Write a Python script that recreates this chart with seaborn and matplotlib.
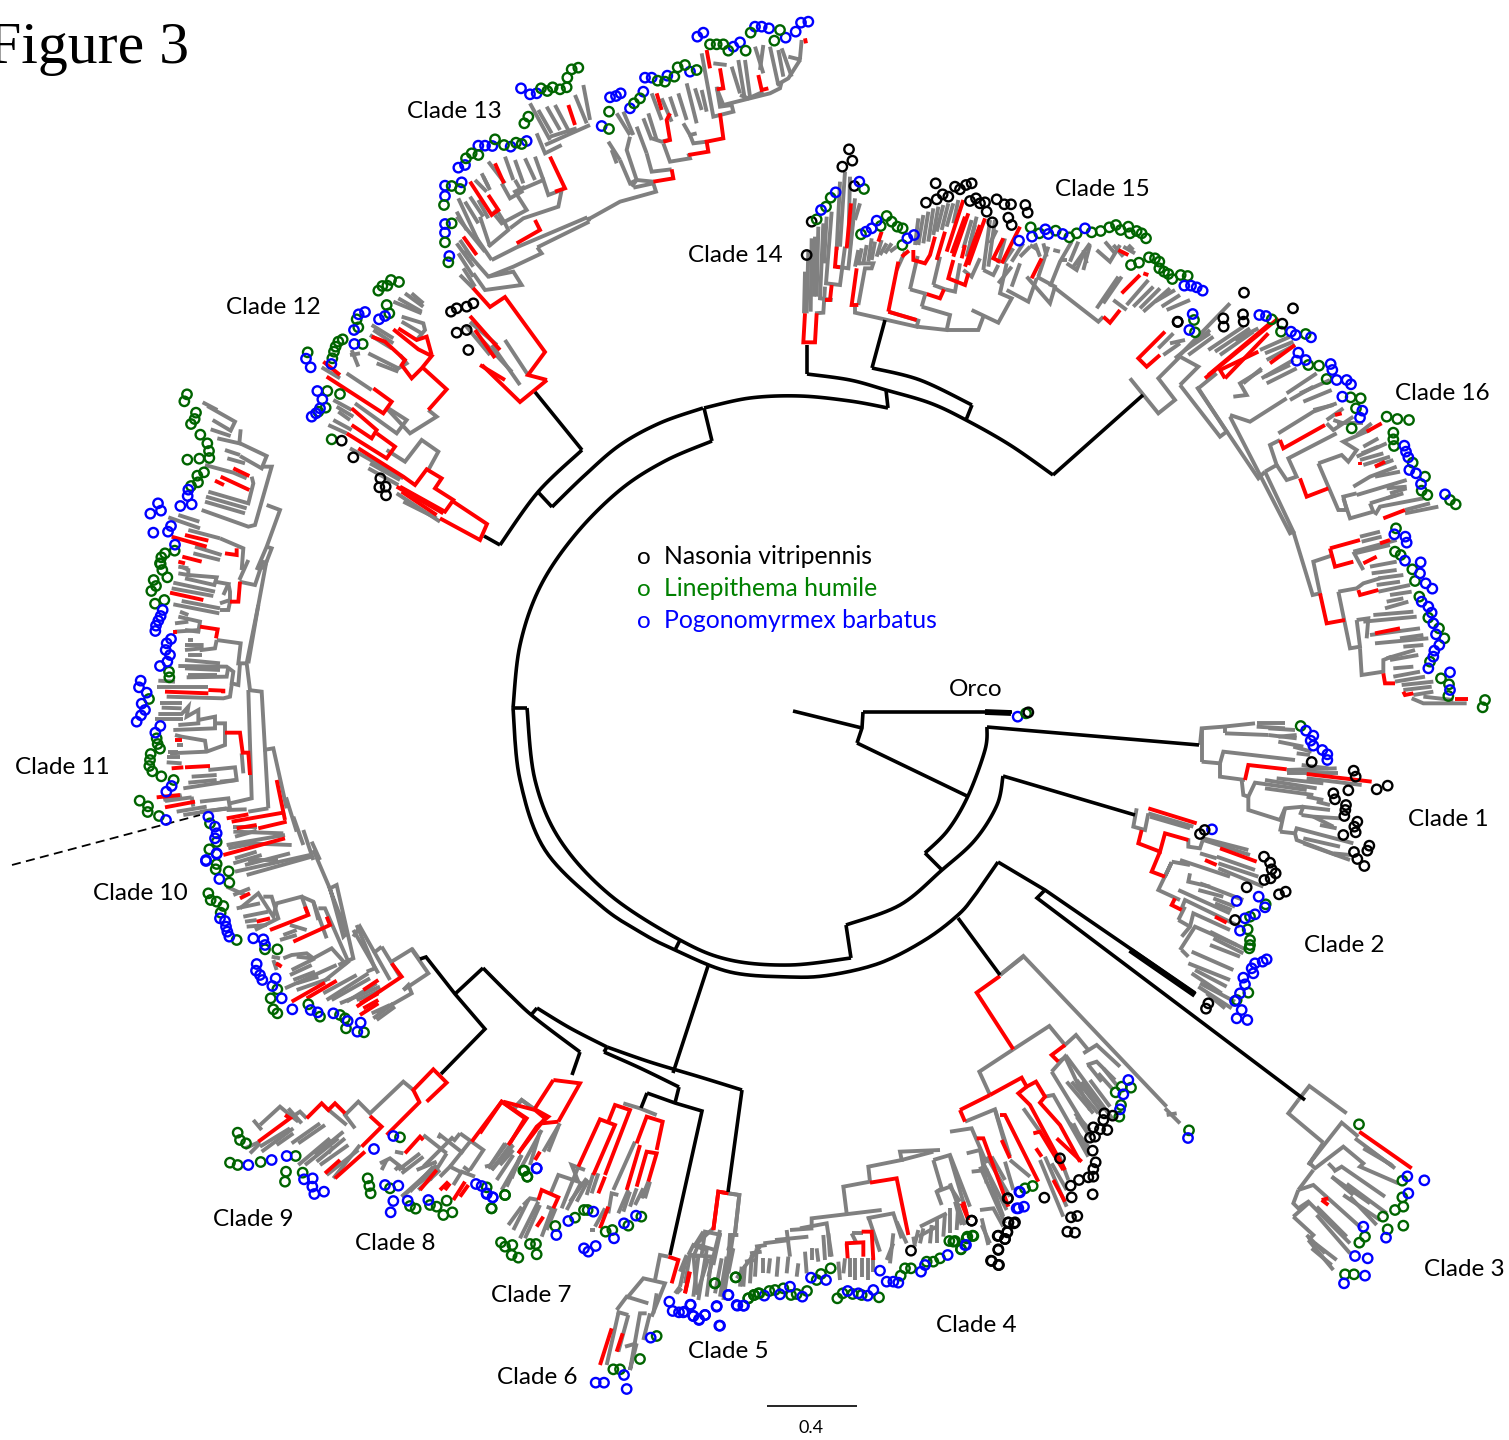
import pandas as pd
import seaborn as sns
import matplotlib
matplotlib.use("Agg")
import matplotlib.pyplot as plt

# ---- branches: flat x,y polylines, in 1/3 px inside a crop ----
c11a_grey = [[248,397,292,420],[262,408,345,455,332,482,278,450],[272,478,332,498],[292,505,358,520,362,478],[315,540,360,555],
 [360,520,440,558,425,595,360,558],[322,565,375,580],[255,585,340,608,380,625],[265,665,385,700,400,640,395,620],[258,680,380,715],
 [255,695,375,730],[245,720,385,770,405,765,455,590,425,590],[145,742,240,775],[175,735,238,755],[205,780,300,805],[225,830,305,855],
 [220,850,300,870],[300,805,370,835,365,900],[185,890,205,900],[440,705,480,720,440,830,410,900],[440,830,455,835,430,900]]
c11a_red = [[340,595,388,618],[302,620,388,660],[285,632,312,645],[195,795,265,812],[155,800,260,830],[315,850,350,855,350,835],[187,860,245,875],[175,875,195,880]]
c12_grey = [[820,95,905,130],[835,85,905,125],[855,70,910,110],[875,70,910,100],[845,140,910,160,915,180,890,210],[845,155,905,190],
 [755,165,820,205],[760,180,820,220],[750,195,815,235],[745,250,835,295,860,280,840,255],[770,280,835,305],[925,420,950,440,870,490,800,415],
 [605,292,660,325],[680,310,755,360],[690,255,720,250],[695,240,715,290],[705,400,830,490,860,450,805,415],[640,390,695,420],[650,410,700,440],
 [655,425,690,450],[640,450,695,480],[625,465,680,490],[690,535,850,625],[750,580,840,630],[745,595,835,645],[800,540,855,575,905,510,955,545,925,600],
 [830,670,960,755],[850,695,950,745]]
c12_red = [[820,178,895,238,935,258,905,295,875,325,845,285,855,270,795,215,755,200],[835,175,890,210,920,200,935,255],[905,290,980,358,925,420],
 [610,275,660,315],[620,320,790,430,815,395,760,355],[695,415,770,480,755,505,695,465],[680,490,800,565,825,530,770,490],
 [715,535,850,620,885,645,920,598,965,625,945,655,1000,690,975,725,840,650],[845,655,925,700],[845,665,950,735],[830,650,970,730],
 [1000,695,1101,762,1080,810,960,745]]
c13base_red = [[473,288,490,307,505,297,545,352,528,375,547,380],[547,380,520,402,482,365],[470,316,500,350],[475,330,495,358],[480,365,505,380]]
c13base_grey = [[505,340,528,375],[470,322,497,345],[482,340,512,372],[466,326,490,355],[492,345,520,385]]
c13_grey = [[90,795,130,835],[100,775,135,830],[85,730,130,800],[80,700,130,770],[90,690,130,750],[105,720,175,800,250,785,275,825,165,840,130,790],
 [175,800,250,770,335,730,322,712],[185,750,260,712,472,622],[322,712,478,635],[472,622,478,635],[475,628,570,575,678,545,670,520,610,533],[185,750,130,670],[165,725,80,620],
 [85,565,150,705],[105,575,145,640],[80,605,110,660],[120,560,160,620],[145,570,175,625],[150,620,180,710],[175,710,235,660,225,640,200,600,190,610],
 [195,615,215,640,290,600,255,545,285,530],[135,510,170,545],[155,490,180,540],[175,455,225,520],[225,440,250,510],[255,450,280,520],[285,445,315,510],
 [315,440,340,510],[160,500,175,530],[215,520,240,565,275,545,255,510],[270,540,340,510,355,555,395,540,385,590,280,625,240,655],
 [320,370,345,430,395,405],[300,280,360,390],[325,300,365,370],[350,290,390,360],[375,285,420,370],[435,255,470,340],[460,225,480,330],
 [345,405,480,345],[360,380,440,355],[535,395,570,450],[560,310,600,375],[580,305,610,375],[545,420,560,460],[570,450,600,520,620,510,590,420,600,380],
 [605,530,620,510,670,515],[620,350,650,430],[640,325,665,390],[655,310,680,390],[650,430,665,485,725,478],[665,250,695,330],[695,265,725,335],
 [720,260,740,320],[745,250,770,330],[770,220,800,340],[795,235,815,300],[815,240,830,305],[665,385,695,395,715,390],[700,400,720,455,780,445,775,430],
 [760,340,780,375,800,370],[780,375,790,400,830,395],[815,130,850,320,910,305,905,285,870,290,860,230],[850,160,890,165],
 [860,235,880,285,1020,250,1050,235,1055,215],[905,170,930,250],[925,150,945,270],[945,150,960,260],[975,110,1000,190],[1000,105,990,180],
 [1020,110,1045,225],[1045,120,1060,200],[1055,115,1085,200],[1075,140,1115,150],[1115,90,1110,145],[930,255,955,265,1000,245],[1040,225,1075,205,1110,150]]
c13_red = [[100,680,140,735],[120,515,185,615,205,600,175,555],[195,460,222,520],[360,440,405,535,375,545],[415,285,435,345],[260,700,330,660,315,630],
 [670,515,730,505,725,478],[680,250,695,300],[775,435,835,425,830,395,880,385,870,310],[720,310,710,330,720,390,700,395],[830,120,840,175],
 [870,175,880,235,860,238],[985,195,995,240,1015,235],[1125,85,1128,100]]
c15_grey = [[45,425,42,550],[55,360,50,550],[65,325,62,545],[75,320,72,500],[85,290,80,500],[100,280,90,505,128,510],[110,260,102,400],
 [125,245,108,460,150,465,165,350],[150,155,140,360],[165,125,150,350],[180,140,175,350],[195,205,180,350],[210,220,195,270],[140,410,175,415,190,270],
 [75,550,100,548,105,470],[205,360,195,410],[215,355,205,405],[230,345,220,400],[245,325,235,395],[255,335,245,390],[275,330,260,380],[290,340,270,375],
 [305,340,285,370],[320,350,300,365],[200,400,250,400,245,415,225,415,205,525],[195,530,195,548,380,590,385,572,295,545],[320,420,345,365],
 [360,478,410,492],[360,478,383,378],[395,530,405,495],[465,478,495,485,510,400],[430,465,450,380],[430,465,465,478],[380,590,470,600,480,555,395,530],
 [385,265,375,345],[400,255,385,345],[415,245,400,340],[430,235,415,335],[445,230,430,315],[460,225,440,305],[475,220,455,300],[490,220,470,290],
 [505,210,490,280],[545,270,520,355],[555,285,530,380],[560,260,540,340],[600,270,580,420],[615,270,595,410],[620,300,600,340],[645,325,625,400],
 [520,420,545,440,570,385],[580,420,610,435,625,405],[470,600,565,600,580,560],[545,540,625,578,665,505,630,490,650,400],[650,480,715,515,740,445],
 [625,460,665,410],[640,400,670,355],[665,395,700,340],[690,380,720,350],[665,470,690,400],[720,345,745,360],[710,440,780,520,795,470,740,440],
 [735,340,750,380],[760,340,770,380],[775,350,745,440],[790,360,810,365],[780,470,810,395,845,335],[810,390,830,390],[840,395,865,335],[850,410,900,340],
 [880,360,890,400],[900,345,880,420],[790,470,925,575,940,560],[830,400,860,420,880,370],[920,360,960,395,990,345],[945,335,975,370],[970,345,1000,380],
 [1000,350,1035,370],[1015,345,1030,360],[920,535,985,440],[940,520,995,440],[970,510,1010,540],[1010,525,1075,450],[1030,530,1090,470],[1050,535,1110,475],
 [1060,545,1140,475],[1095,515,1155,480],[1115,530,1170,495],[1130,540,1200,510]]
c15_red = [[45,550,40,637,75,637,80,550],[125,465,120,510,105,510],[140,350,135,410,150,412],[183,220,170,355],[200,415,185,525,205,525],[295,545,380,570],
 [295,545,325,395],[275,305,265,335],[335,380,357,362],[410,492,450,505,462,478],[520,210,470,365],[535,250,490,380],[525,260,485,370],[570,285,525,410],
 [585,265,535,405],[465,305,440,390],[435,320,420,375,405,400,370,390,370,360],[490,390,475,445,525,465,535,430],[525,345,515,385],[640,325,610,385,630,395],
 [690,290,635,400],[755,385,725,445],[985,360,1015,375],[940,560,960,578,990,540],[995,490,1050,435],[1060,430,1075,435]]
c16_grey = [[0,295,85,400,135,360,85,295,150,230],[85,205,130,160],[100,225,150,190],[120,190,165,180],[135,235,240,150],[165,210,240,160],[175,225,250,170],
 [150,225,300,70],[235,210,340,140],[255,215,360,145],[270,225,370,155],[315,180,385,145],[150,315,205,260,150,230],[150,315,270,470,290,455,205,325,260,280],
 [200,320,385,595,405,575],[300,410,480,760,490,755,405,575],[300,405,360,425,470,355],[310,350,350,345,330,310,395,270],[340,310,395,265],[395,295,490,240],
 [405,290,480,255],[410,310,500,265],[390,210,480,170],[405,220,490,185],[410,240,495,195],[470,340,560,280],[480,360,550,320],[510,340,600,300],[520,365,605,330],
 [445,460,550,395,620,370],[550,390,610,375],[590,420,640,385],[590,430,610,450,670,410],[610,420,640,430],[620,430,700,430],[680,465,725,430],
 [405,575,440,555,420,495,450,480],[440,555,470,600,500,590,475,535,620,460],[565,550,625,690,650,690,640,650,680,640],[565,550,635,525,655,545,680,510,640,485,720,450],
 [680,530,770,490],[700,500,745,475],[695,520,745,500],[690,540,760,520],[700,555,780,530],[735,560,790,540],[640,655,660,715,730,695,720,670],
 [670,620,720,590,800,560],[735,590,810,575],[680,645,830,600],[770,625,830,620],[780,640,830,625],[770,655,820,640],[720,670,800,645],[735,705,750,680,880,655],
 [825,700,925,680],[825,690,900,670],[490,755,548,945,570,940,550,845,610,825],[690,770,750,755],[695,785,755,770],[670,815,700,870],[670,815,800,780],[675,820,780,795],
 [625,935,660,1105,690,1100,680,1020],[625,935,680,925,700,910,750,895],[720,860,800,845],[725,880,800,870],[745,895,820,885],[740,915,810,905],[745,935,840,915],
 [780,945,845,935],[770,965,820,955],[765,985,835,965],[730,1005,850,995],[700,1025,860,1010],[720,1065,870,1045],[735,1090,895,1075],[810,1075,880,1065],
 [820,1100,880,1095],[770,1135,855,1110],[780,1140,865,1125],[790,1165,850,1160],[680,1020,715,1015,710,1075],[690,1105,695,1185,760,1175,760,1140,785,1130],
 [790,1190,870,1175],[795,1205,885,1190],[815,1215,910,1205],[820,1230,905,1220],[850,1245,910,1235],[845,1255,880,1270,1010,1270],[880,1250,970,1260]]
c16_red = [[105,155,25,235,50,260,90,225],[225,295,445,115],[235,285,420,130],[285,295,415,160],[285,295,270,270,385,215],[420,250,495,195],[450,480,460,505,585,435],
 [615,405,635,400],[710,455,755,430],[510,595,530,650,595,625],[690,545,690,555],[735,560,765,545],[760,715,825,690],[600,805,615,860,670,845],[600,805,690,780],
 [750,790,780,780],[700,850,740,830],[570,940,590,1030,645,1020],[685,930,690,945,745,930],[735,1060,810,1045],[760,1180,765,1210,795,1210],[820,1235,825,1245,850,1240],[975,1258,1015,1258]]
c12_grey_z7 = [[240,135,245,85,310,80,405,70],[245,185,245,85],[245,185,300,190,310,155,525,180],[300,190,300,230,375,240],[410,70,495,70],[410,80,495,85],
 [315,100,445,105],[315,75,315,100],[445,85,525,90],[445,105,530,115],[475,110,530,105],[475,125,550,140],[520,140,575,155],[530,160,570,165],[500,210,650,205],
 [500,220,655,220],[545,195,625,205],[365,240,370,285,385,290,405,248,560,270],[385,290,385,330,480,360,495,325,550,320],[435,240,590,265],[470,235,610,250],[435,265,580,285],
 [560,290,610,300],[590,305,630,315],[545,320,630,330],[545,345,580,350,660,355],[580,350,640,380],[600,375,650,385],[540,345,550,320],[480,395,525,400,530,385,700,430],
 [480,395,495,325],[525,400,530,420,650,465],[550,415,660,440],[550,430,690,480],[640,460,690,465],[560,235,725,255],
 [50,325,40,380,75,390,85,340],[85,340,220,380],[90,350,210,385],[135,530,155,487,115,570,180,600],[205,415,205,440,240,445,250,415,385,450],[250,420,390,465],[240,460,290,475],
 [290,470,405,510],[295,490,415,530],[295,505,430,560],[155,485,210,495],[180,480,330,530],[210,520,205,545,270,560],[240,550,370,600],[235,570,310,590],[280,595,345,620],
 [285,610,335,630],[175,570,330,640],[185,625,195,600,360,680],[175,660,195,620],[175,660,210,680],[185,710,210,680,220,640,330,690],[270,695,380,750],[280,715,370,760],
 [270,735,360,770],[180,750,225,680,350,735],[185,750,205,770],[215,755,340,810],[205,790,330,840],[225,810,320,860],[215,820,305,880],[240,850,345,905],[235,860,335,925],[260,880,315,925]]
c12_red_z7 = [[375,240,385,195,500,208],[560,222,755,245],[85,325,230,370],[65,390,55,430,120,455,135,400,205,420],[120,455,95,515,135,530],[300,445,410,485],[255,480,290,495],
 [165,595,155,615,185,630],[285,650,320,668]]
c4_grey_z8 = [[150,75,220,18,650,470],[645,475,690,520],[650,495,680,490],[190,298,88,365,120,435],[190,298,298,228,345,285,378,255,415,300],[325,335,350,320,490,510],
 [400,310,440,285,510,350],[410,345,440,335,495,390],[415,345,455,395],[305,365,345,320,420,480],[305,365,400,520],[350,395,430,490],[365,395,445,490],[380,390,455,485],
 [395,395,465,480],[420,390,480,470],[445,370,490,420],[460,355,500,405],[375,490,420,540],[360,520,415,590],[370,520,415,610],[380,500,420,560],
 [45,515,135,478,180,620],[0,545,65,535,110,640],[135,480,170,600],[285,440,310,435,415,620],[220,475,270,545],[180,630,240,680],[165,635,190,720],[270,630,340,800],
 [285,620,350,770],[305,640,350,720],[325,610,355,690],[50,610,90,600,110,700],[65,665,110,660,160,800],[90,650,165,820],[100,640,170,780],[110,620,180,740],[125,620,165,690],
 [90,780,130,775,160,830],[95,825,120,880],[95,805,115,885],[0,620,50,790],[0,700,45,825],[15,755,35,825],
 [1045,450,1078,408,1190,490],[1045,450,1015,490,1120,578],[1120,578,1075,645,1175,518,1225,560],[1090,660,1045,720],[1215,565,1335,655],[1240,595,1325,645],[1245,590,1330,650],
 [1080,640,1095,655,1180,590,1240,640,1230,650,1345,700],[1135,640,1155,660],[1150,665,1175,650,1305,740],[1145,680,1260,760],[1145,680,1210,735],[1185,720,1195,705,1310,790],
 [1180,735,1290,810],[1200,740,1280,825],[1045,720,1090,705,1235,835],[1045,720,1030,760,1045,775,1075,755,1200,880],[1100,795,1200,910],[1100,770,1190,860],[1030,800,1075,760],
 [1030,800,1090,855,1075,870],[1075,870,1150,960],[1070,855,1125,910],[1085,895,1145,945],[1095,880,1160,930]]
c4_red_z8 = [[150,78,80,128,190,298],[345,285,305,315,325,335],[120,435,215,383,230,410,258,395,285,440,270,458,330,525,390,635],[230,410,205,430,240,465,345,660],[30,480,120,435],
 [30,480,45,515],[150,495,165,495,265,695],[155,570,180,625],[80,565,100,565,175,770],[250,550,270,545,340,660],[258,595,275,620],[310,690,345,755],[320,565,395,635],[35,760,55,810],
 [1228,545,1385,655],[1115,750,1135,745],[1115,750,1135,765]]
c4_grey_z9 = [[500,250,490,170,570,155],[570,155,565,110,665,90,660,65,780,60],[665,90,760,65],[760,90,810,75,870,230],[760,90,785,175,770,185,785,225],[770,185,810,170,840,215],
 [395,290,395,265,605,240],[360,295,440,280,455,380],[330,300,400,295],[285,330,385,320],[225,350,260,345],[250,340,330,330],[210,370,245,365],[195,395,225,390],[185,410,180,470],
 [195,405,190,470],[215,375,210,460],[230,355,225,440],[250,385,250,430],[270,385,265,430],[295,380,290,440],[325,380,320,430],[355,400,350,440],[375,365,380,430],[395,355,395,390],
 [410,355,415,395],[430,315,435,390],[445,310,450,380],[320,300,330,380],[560,265,640,250,665,325],[565,260,600,365],[515,310,550,310],[475,395,480,450],[495,385,490,430],
 [510,385,510,440],[525,385,525,450],[545,385,545,440],[565,385,565,450],[580,385,580,425],[515,310,530,340],[640,310,630,400],[650,275,680,340],[620,390,640,340],[705,350,700,320],
 [720,290,800,250],[715,320,770,290],[705,340,715,300],[720,340,730,295],[750,340,755,285],[770,340,770,260],[790,320,795,250],[810,310,810,235],[830,300,835,220],
 [145,190,178,195,165,310],[40,350,100,295],[70,305,45,345,75,360],[25,375,40,345,80,360,55,510],[20,375,0,425],[25,375,55,380,40,500],[120,300,85,440],[125,385,105,490],
 [160,310,130,510],[150,355,125,490],[140,355,160,360]]
c4_red_z9 = [[570,158,650,145,685,315],[495,340,550,337,550,380],[500,340,503,385],[545,305,575,305,580,390],[850,215,865,270],[100,300,115,185,145,190],[30,425,15,490]]
c5_grey_z10 = [[430,70,480,85,530,105],[210,345,235,285,295,305,275,255,315,270],[245,385,295,260],[260,390,305,305],[270,365,320,295],[290,365,325,300],[320,345,340,280],[335,340,355,280],
 [175,360,150,355,130,375],[85,435,125,380],[100,450,145,360],[120,475,175,365],[135,475,180,375],[185,470,215,390],[200,380,225,390,200,450],[400,330,465,185],[330,450,345,450],
 [345,440,375,385],[385,400,395,340,415,345],[415,400,445,330],[430,395,450,335],[450,380,470,325],[465,375,490,325],[485,355,505,305],[495,355,510,305],[100,90,125,60,160,85],
 [125,260,185,150],[190,215,240,130],[205,215,235,140],[150,255,180,155],[25,265,75,190],[35,270,95,190],[50,300,100,225],[65,330,125,225],[15,260,35,255],
 [745,340,778,345,765,460],[665,525,675,455,725,465],[640,530,655,495,705,510],[745,540,750,465,775,465],[615,610,630,525,695,530,680,650],[600,620,620,530],[640,520,650,640],
 [650,645,685,535],[700,555,720,460],[720,650,740,530],[745,580,760,505],[585,640,600,620],[590,640,605,625],[770,595,790,565,840,500],[525,600,540,525,565,530],
 [440,655,490,595,555,610,515,710],[530,640,520,700],[410,690,440,650,505,670],[410,695,445,705],[380,855,415,700],[445,705,415,815],[500,700,480,700,450,870,470,790],[435,800,470,790],[490,780,510,700]]
c5_red_z10 = [[295,260,360,118,405,135,340,285],[385,125,405,75,450,90,375,285],[355,340,375,290],[175,360,185,330,235,352,220,385],[170,440,190,410],[360,445,385,380],[440,330,480,195],
 [470,320,500,215,530,220,505,305],[470,190,500,110,548,125,530,210],[0,160,65,65,140,115,85,195],[115,220,170,140,205,110,160,85],[235,125,300,10,220,0],[165,240,180,215],[165,85,220,0],
 [185,130,235,125],[700,450,715,335,745,340],[615,640,628,575],[565,530,595,540,575,610],[360,855,395,745],[410,815,428,760]]
c8_grey_z11 = [[580,120,550,95,450,190,415,155,375,195,405,235],[320,175,380,225],[260,205,240,185,225,195],[205,175,245,220],[100,210,125,240],[120,225,180,170,210,195,235,215],
 [75,295,120,275],[90,310,120,280],[125,305,220,235],[120,290,210,235],[170,285,220,250],[215,280,300,220],[235,280,315,225],[255,345,355,265],[235,345,330,265],[290,335,375,265],
 [285,315,370,245],[300,345,385,285],[325,310,340,290],[340,385,420,285],[320,375,415,300],[610,255,680,310],[655,265,660,255,730,310],[720,250,790,300,750,360],[700,275,720,250],
 [880,175,905,150,945,180],[805,355,860,280],[815,360,880,285],[840,345,880,300],[860,410,905,315],[875,385,900,320],[545,440,655,355],[480,340,510,325,555,360],[485,360,500,330],
 [525,305,550,310],[525,360,540,345],[535,360,600,310],[545,370,610,320],[590,360,650,335],[545,440,650,345],[595,420,660,360],[570,425,640,350],[700,405,725,365,765,380],
 [660,380,690,350,720,365],[730,350,750,365],[610,350,700,260],[680,310,630,390],[690,350,750,275]]
c8_red_z11 = [[600,160,580,120,640,58,680,98,620,155],[500,255,600,155],[450,198,485,230,425,290],[375,190,345,160,325,180,305,160,260,205],[115,275,210,205,195,195],[315,370,360,330],
 [345,385,435,305],[555,310,600,260,610,270],[755,275,845,155,915,205,870,280],[895,310,975,205,945,180,850,155],[600,420,650,360],[660,420,685,395],[675,420,690,400],[700,450,735,395],[720,440,745,405]]
c11b_grey = [[175,20,205,25],[175,40,205,45],[205,25,205,45,290,52,283,75,195,55],[160,68,285,95],[155,85,280,108],[285,65,325,72,310,105],[160,133,298,160],[185,123,300,145],
 [300,130,330,120,330,95,325,70],[300,150,325,150,330,125],[358,65,405,75,430,0],[358,60,385,0],[440,0,415,135,380,310,390,390],[180,155,205,165],[175,170,240,185,235,215,195,210],
 [165,190,205,185],[165,215,240,210],[290,240,362,250,355,310,380,310],[205,240,220,240],[195,255,245,255,245,270,285,265,290,240],[195,270,245,265],[205,285,245,285],[195,300,300,310],
 [175,318,320,320,340,335,335,370,355,375,360,310],[195,325,300,330],[205,345,290,345],[200,352,320,350,325,320],[115,362,165,365],[110,380,265,380],[140,410,310,415,330,410,335,375],
 [120,430,185,430],[125,443,185,445],[115,462,185,462,205,440,200,470,235,450,235,490,175,495],[105,478,190,478],[160,510,285,505,285,470,235,480],[285,490,315,490,315,555,260,575,150,580],
 [165,525,185,530,255,542,260,575],[170,555,190,555],[145,575,175,575],[140,590,180,590],[140,607,185,610],[265,630,345,622,350,660,300,665],[215,650,290,645],[205,668,290,660],
 [190,685,350,660],[370,640,365,580],[385,390,425,395,445,745],[385,390,395,715,330,730],[240,725,325,715,330,745,240,755],[130,720,185,705],[215,710,220,740],[135,723,215,712],
 [170,755,260,740],[190,765,320,745],[385,755,445,745],[320,750,380,748],[430,570,460,565,500,745],[495,720,500,718,530,815],[340,800,410,800],[345,830,410,812],[340,815,490,820],
 [320,855,495,825],[325,865,400,850],[345,895,410,875],[380,850,515,855],[520,770,550,855],[550,810,580,900],[575,845,600,900]]
c11b_thick = [[415,135,385,310]]
c11b_red = [[150,98,250,120],[330,125,355,125,360,65],[240,200,293,208,288,235],[165,210,165,222],[135,395,265,400],[265,390,310,392,310,400],[315,518,360,518,368,578,385,578,390,645],
 [165,540,185,540],[155,625,190,622],[195,622,270,618],[110,712,180,705],[135,742,225,725],[470,660,495,780],[320,775,385,763],[335,785,495,757],[350,805,410,795],[415,805,500,785],[310,885,495,835]]
c10_grey = [[135,65,360,15],[130,40,215,15],[165,45,300,10],[170,75,365,20],[175,30,265,30],[370,0,415,105,470,250,460,260,420,115,440,105,490,325,445,345],[500,225,555,355,530,365],
 [490,260,510,230,600,390],[490,240,565,370],[575,290,630,380],[550,310,575,290],[605,335,665,298,715,370,640,420],[690,330,665,295],[110,110,165,135],[130,135,180,115],[140,175,210,160],
 [160,200,235,185],[165,215,200,210],[170,230,230,225],[150,175,205,130,250,200,260,160,335,140,355,195],[220,140,245,140,265,205,195,240],[335,140,370,155,410,265],[370,155,385,210],
 [385,175,405,175,475,335,400,395],[280,255,320,240],[270,270,320,255],[300,225,350,240],[280,325,305,315,350,310,370,325,425,295,470,345],[245,320,270,325],[255,340,270,345],[250,330,260,360],
 [320,320,365,325],[305,360,375,325],[300,375,365,345],[310,390,375,365],[320,400,385,380],[320,420,420,385],[285,415,440,345],[400,430,500,375],[410,450,535,370],[425,450,540,385],
 [450,460,570,410],[470,455,560,400],[500,450,575,420],[550,505,610,460],[560,510,615,470],[545,490,600,465],[640,420,655,405,665,430,560,490]]
c10_red = [[150,145,180,130],[200,215,240,205],[240,240,355,195,345,170],[310,275,420,225,410,200],[258,340,275,350],[305,455,405,398],[350,445,440,392],[520,420,565,390],
 [500,470,635,380,605,340],[510,460,565,430],[520,475,565,450],[510,495,565,460]]

# ---- backbone, whole-picture px ----
backbone_straight = [[793,711,862,728],[863,712,862,728,857,743],[863,712,1012,712],[857,743,967,796],[987,727,1199,745],[925,853,942,870],[1003,776,1135,815],[846,925,851,958],
 [680,940,675,950],[958,918,1000,975],[998,862,1045,890,1195,993],[1045,890,1037,898,1305,1100],[513,708,527,708],[712,441,704,408],[888,408,886,390],[538,492,552,507],
 [500,545,484,536],[535,392,582,450],[807,345,807,374],[1053,475,1143,395],[885,320,872,368],[972,405,966,420],[708,966,673,1073],[420,959,426,957,455,994,485,1029,441,1074],
 [455,994,483,968],[580,1052,572,1075],[531,1015,537,1008],[607,1047,604,1052],[679,1087,675,1103],[742,1090,728,1192],[647,1093,675,1103,702,1111,670,1255],[647,1093,641,1108]]
backbone_curved = [[987,727,985,750,968,796,948,830,925,853],[1003,776,997,805,975,840,942,870,900,905,846,925],
 [998,862,975,895,958,915,925,940,880,963,830,975,790,977,730,972,675,950,640,932,600,905,545,850,520,780,513,708],
 [851,958,790,965,730,960,680,940,610,895,560,840,535,780,527,708],[513,708,520,645,540,587,575,535,620,490,665,461,712,441],[704,408,750,398,800,396,850,401,888,408],
 [552,507,585,475,620,445,660,423,703,408],[582,450,538,492,500,545],[807,374,850,380,886,390,930,403,966,420,1010,445,1053,475],[872,368,920,380,972,405],
 [483,968,510,995,535,1018,580,1052],[537,1008,570,1028,607,1047],[604,1052,640,1068,679,1087],[607,1047,650,1062,700,1077,742,1090]]
thick_black = [[985,712,1011,713],[1130,950,1195,995]]
grey_px = [[1023,957,1000,975]]
dash_line = [12,865,200,815]
scale_bar = [767,1406,857,1406]

# ---- tips: (x, y) in 1/3 px inside a crop ----
z1_green = [201,373,193,394,228,428,224,447,213,462,241,494,262,520,267,543,268,564,238,566,202,569,252,607,232,617,234,637,213,648,135,850,124,862,120,880,164,842,563,247,622,363,660,372,617,413,595,425,635,508,728,222,668,208,655,215,647,230,642,245,637,265,800,105,808,130,710,148,715,172,775,62,787,48,802,47,813,30,837,36]
z1_blue = [205,659,203,678,215,703,181,708,114,700,123,722,91,731,100,788,144,785,153,768,165,824,558,266,572,292,634,282,592,363,607,388,600,415,588,430,575,440,703,222,702,180,716,133,735,126,777,148,795,138]
z1_black = [665,512,700,562,781,625,778,652,797,650,798,676,993,125,1010,115,1010,188,1040,110,1060,100,1040,180,1045,240]
z2_green = [122,12,127,30,142,52,101,60,108,78,94,93,133,120,105,131,147,335,148,352,87,417,110,535,113,552,120,566,92,582,90,600,88,618,97,634,124,649,161,660,59,722,84,739,83,756,117,768,270,790,268,868,290,846]
z2_blue = [128,150,122,168,115,182,108,197,106,213,153,237,140,250,137,270,150,285,142,305,120,318,62,362,57,382,80,398,65,431,75,450,63,466,50,485,121,498,106,518,155,678,139,695,138,780,265,770,285,800,290,820,285,835,290,880,258,900]
z3_green = [55,130,62,150,80,155,100,168,92,188,80,42,77,58,116,64,118,98,140,270,225,298,262,298,262,418,242,445,250,478,262,490,355,463,390,500,450,495,465,505,468,535,522,547]
z3_blue = [80,12,48,33,88,87,90,205,105,213,108,230,112,245,118,260,190,265,220,268,225,285,200,342,198,362,210,375,217,390,257,385,247,408,275,445,307,478,362,480,383,487,430,490,473,513,512,518,502,545]
z4_blue = [273,235,300,253,320,250,145,407,165,407,187,408,242,410,290,393,85,473,105,465,95,517,45,527,45,558,45,642,45,668,58,738,515,348,540,262,558,258,572,250,600,295,640,245,645,203,665,203,712,197,780,185,802,80,820,68,910,110,930,97,975,50,995,50,1017,55,1067,83,1097,65,1113,38,1135,35]
z4_green = [283,340,295,320,333,235,352,243,368,232,390,238,410,232,412,203,425,178,445,173,195,388,222,405,258,398,275,402,108,445,125,430,145,435,65,528,90,537,42,585,65,640,45,697,55,757,537,305,537,357,612,280,630,265,683,212,705,215,733,200,743,172,765,165,800,180,840,103,860,103,880,103,895,122,947,122,962,68,1050,60,1033,92]
z5_black = [177,58,187,92,157,110,193,168,50,375,65,275,437,160,408,218,440,208,458,193,475,200,495,170,510,178,528,165,545,160,540,213,558,205,570,220,585,217,590,245,620,208,643,223,663,223,706,225,713,248,655,263,665,285,607,277,1163,575]
z5_green = [80,268,108,230,122,203,222,177,213,313,272,288,290,258,305,275,322,290,338,295,337,345,722,292,748,310,797,302,838,322,860,310,905,307,932,303,958,292,978,285,992,300,1015,290,1020,310,1040,303,1055,310,1068,325,1023,405,1047,398,1077,382,1095,385,1108,395,1108,415,1122,425,1135,432,1147,447,1172,435,1193,438,1212,570,1215,607]
z5_blue = [93,240,137,187,208,155,228,305,245,295,260,272,352,325,372,315,687,332,726,320,766,298,775,312,818,312,885,295,1183,467,1203,467,1220,472,1238,482,1208,552,1198,600]
z6_green = [425,118,453,155,527,162,535,255,567,257,590,297,662,352,692,355,678,385,665,445,770,410,802,417,837,420,790,458,790,478,792,498,848,548,885,590,875,632,892,645,960,660,977,673,798,745,795,815,812,825,847,868,855,903,868,950,895,1013,927,1045,943,1075,900,1145,933,1195,957,1213,955,1248,1065,1260,1058,1282]
z6_blue = [388,105,408,108,483,155,497,165,543,172,505,218,500,242,527,240,602,252,607,270,620,300,650,300,663,313,637,350,697,392,690,413,823,497,828,515,835,532,838,570,858,580,873,612,945,643,793,763,826,770,830,788,825,842,872,847,870,880,887,910,907,926,875,965,895,980,905,998,910,1030,918,1063,928,1095,913,1112,910,1130,895,1165,960,1177,960,1230]
z6_black = [342,38,489,85,143,126,280,115,281,140,339,103,341,125,457,131]
z7_green = [542,78,390,650,383,688,390,720,390,735,388,745,437,613,385,878,350,900]
z7_blue = [558,92,580,107,572,122,580,137,607,150,622,163,622,180,276,388,416,590,350,603,435,622,405,643,375,655,360,692,440,778,428,785,405,790,395,805,400,820,370,833,375,853,360,880,345,903,365,930,350,955,382,960]
z7_black = [575,186,701,212,707,230,770,268,803,257,685,271,640,280,645,298,678,315,676,330,673,348,712,365,703,380,707,397,670,405,748,437,742,452,702,456,712,477,733,498,240,402,254,390,432,470,450,488,455,508,467,520,452,535,433,540,380,562,477,583,497,575,345,660,265,910,258,926]
z8_green = [497,427,515,410,543,413,513,465,508,500,717,541,1227,523,1357,692,1357,742,1360,770,1335,780,1299,800,1313,838,1360,827,1245,860,1228,878,1185,973,1212,973,248,708,10,875,33,897,50,865,68,857,225,715]
z8_blue = [535,390,520,433,510,478,714,564,1372,679,1423,691,1375,730,1240,830,1308,863,1215,918,1253,925,1245,977,1182,1000,210,727,205,775,222,770,45,885]
z8_black = [463,490,488,497,460,510,430,532,450,538,472,540,420,563,435,560,428,602,437,637,430,657,415,682,430,680,387,690,362,707,428,733,365,742,283,743,330,625,173,745,363,802,382,798,352,845,375,848,65,812,175,818,192,820,172,847,145,857,165,867,145,900,123,932,147,945]
z9_green = [104,460,167,442,205,505,222,495,238,490,268,483,285,480,310,475,333,495,350,492,381,483,410,450,423,432,452,415,472,505,488,490,518,492,545,495,597,502,662,437,675,415,693,415,740,395,760,395,780,385,808,333,825,333,843,358,862,320,880,318]
z9_blue = [32,525,10,547,40,558,57,570,75,555,110,530,145,495,120,587,172,527,192,527,253,497,300,493,330,470,367,500,393,443,438,450,503,483,535,490,563,497,580,480,600,422,620,455,640,455,655,458,723,425,735,405,803,375,858,345,1010,235,1018,185]
z9_black = [693,362,875,272,984,205,985,277,1005,277,982,305,953,318,975,327,955,358,935,393,955,405]
z10_green = [130,272,142,290,75,345,34,385,63,487,75,500,97,495,95,525,115,533,150,492,168,492,170,523,226,438,285,413,312,390,323,390,377,455,397,450,445,437,484,410,705,610,767,592,530,768,480,837,400,868,420,868,805,655,822,645,835,640]
z10_blue = [170,265,20,340,38,352,229,465,265,423,340,395,312,505,325,515,347,498,402,475,432,430,468,407,568,665,578,693,597,697,613,695,631,674,640,708,657,718,675,705,710,678,745,645,718,737,770,675,790,677,512,773,432,885,347,908,372,908,440,927]
z11_green = [53,248,60,270,78,280,30,338,53,345,122,336,227,318,198,365,195,395,248,368,443,385,448,408,452,430,510,415,570,468,587,476,630,465,650,470,670,495,697,487,680,452,800,412,855,435,815,475,540,262,913,362,922,380]
z11_blue = [85,345,155,330,200,318,252,388,278,385,277,410,283,432,312,425,520,258,462,297,495,405,535,407,520,453,563,452,512,487,625,450,768,402,785,408,800,432,818,442,950,355]
z12_blue = [713,170]
z12_green = [738,160]
z12_black = [745,157]

species_names = ["Nasonia vitripennis", "Linepithema humile", "Pogonomyrmex barbatus"]
clade_labels = ["Clade 1","Clade 2","Clade 3","Clade 4","Clade 5","Clade 6","Clade 7","Clade 8","Clade 9","Clade 10","Clade 11","Clade 12","Clade 13","Clade 14","Clade 15","Clade 16","Orco"]
clade_label_x = [1448,1344,1464,976,728,537,531,395,253,140,62,273,454,735,1102,1442,976]
clade_label_y = [820,945,1269,1326,1352,1377,1295,1244,1219,893,768,307,112,256,190,393,690]

O1,O2,O3,O4,O5,O6,O7,O8,O9,O10,O11,O12 = (120,270),(120,560),(190,850),(430,10),(790,130),(1130,280),(1120,700),(950,950),(680,1130),(480,1080),(220,1050),(780,660)
GREY = [(O1,c11a_grey),(O1,c12_grey),(O4,c13_grey),(O5,c15_grey),(O6,c16_grey),(O7,c12_grey_z7),(O8,c4_grey_z8),(O9,c4_grey_z9),(O10,c5_grey_z10),(O11,c8_grey_z11),(O2,c11b_grey),(O3,c10_grey),(O2,c11b_thick)]
RED = [(O1,c11a_red),(O1,c12_red),(O4,c13_red),(O5,c15_red),(O6,c16_red),(O7,c12_red_z7),(O8,c4_red_z8),(O9,c4_red_z9),(O10,c5_red_z10),(O11,c8_red_z11),(O2,c11b_red),(O3,c10_red)]
TIPS = [(O1,z1_green,1),(O1,z1_blue,2),(O1,z1_black,0),(O2,z2_green,1),(O2,z2_blue,2),(O3,z3_green,1),(O3,z3_blue,2),(O4,z4_blue,2),(O4,z4_green,1),(O5,z5_black,0),(O5,z5_green,1),(O5,z5_blue,2),
 (O6,z6_green,1),(O6,z6_blue,2),(O6,z6_black,0),(O7,z7_green,1),(O7,z7_blue,2),(O7,z7_black,0),(O8,z8_green,1),(O8,z8_blue,2),(O8,z8_black,0),(O9,z9_green,1),(O9,z9_blue,2),(O9,z9_black,0),
 (O10,z10_green,1),(O10,z10_blue,2),(O11,z11_green,1),(O11,z11_blue,2),(O12,z12_blue,2),(O12,z12_green,1),(O12,z12_black,0)]

def lines_df(groups):
    rows, n = [], 0
    for (ox, oy), paths in groups:
        for p in paths:
            for i in range(0, len(p), 2):
                rows.append((n, ox + p[i] / 3, oy + p[i + 1] / 3))
            n += 1
    return pd.DataFrame(rows, columns=["path", "x", "y"])

def px_groups(paths):
    return [((0, 0), [[3 * v for v in p] for p in paths])]

def curve(p, steps=12):
    """Draw a read polyline as a smooth arc through the same points (Catmull-Rom)."""
    P = [(p[i], p[i + 1]) for i in range(0, len(p), 2)]
    P = [P[0]] + P + [P[-1]]
    out = []
    for i in range(1, len(P) - 2):
        for s in range(steps):
            t = s / steps
            for k in range(2):
                a, b, c, d = P[i - 1][k], P[i][k], P[i + 1][k], P[i + 2][k]
                out.append(0.5 * (2 * b + (c - a) * t + (2 * a - 5 * b + 4 * c - d) * t ** 2 + (3 * b - a - 3 * c + d) * t ** 3))
    return out + [P[-1][0], P[-1][1]]

sns.set_theme(style="white")
fig = plt.figure(figsize=(15.09, 14.40), dpi=100)
ax = fig.add_axes([0, 0, 1, 1])
ax.set_xlim(0, 1509); ax.set_ylim(1440, 0); ax.axis("off")

def draw(df, color, lw, **kw):
    sns.lineplot(data=df, x="x", y="y", units="path", estimator=None, sort=False, color=color, lw=lw,
                 legend=False, ax=ax, solid_capstyle="butt", solid_joinstyle="miter", **kw)

draw(lines_df(GREY + px_groups(c13base_grey) + px_groups(grey_px)), "#808080", 2.8)
draw(lines_df(RED + px_groups(c13base_red)), "#ff0000", 2.8)
draw(lines_df(px_groups(backbone_straight) + px_groups([curve(p) for p in backbone_curved])), "black", 2.6)
draw(lines_df(px_groups(thick_black)), "black", 4.2)
draw(lines_df(px_groups([dash_line])), "black", 1.3, linestyle=(0, (5, 3)))
draw(lines_df(px_groups([scale_bar])), "black", 1.2)

rows = []
for (ox, oy), pts, k in TIPS:
    for i in range(0, len(pts), 2):
        rows.append((ox + pts[i] / 3, oy + pts[i + 1] / 3, species_names[k]))
tips = pd.DataFrame(rows, columns=["x", "y", "species"])
palette = dict(zip(species_names, ["black", "#006400", "#0000ff"]))
sns.scatterplot(data=tips, x="x", y="y", hue="species", palette=palette, s=46, marker="o", legend=False, ax=ax, zorder=5)
pts_art = ax.collections[-1]
pts_art.set_edgecolors(pts_art.get_facecolors())
pts_art.set_facecolors("none")
pts_art.set_linewidth(1.7)

for t, x, y in zip(clade_labels, clade_label_x, clade_label_y):
    ax.text(x, y, t, ha="center", va="center", fontsize=17.5, family="Lato", color="black")
ax.text(-12, 49, "Figure 3", ha="left", va="center", fontsize=43, family="Liberation Serif", color="black")
for name, col, y in zip(species_names, ["black", "#008000", "#0000ff"], [557, 589, 621]):
    ax.text(644, y, "o", ha="center", va="center", fontsize=17.5, family="Lato", color=col)
    ax.text(664, y, name, ha="left", va="center", fontsize=17.8, family="Lato", color=col)
ax.text(811, 1428, "0.4", ha="center", va="center", fontsize=13, family="Lato", color="black")
fig.savefig("out.png", dpi=100, facecolor="white")
